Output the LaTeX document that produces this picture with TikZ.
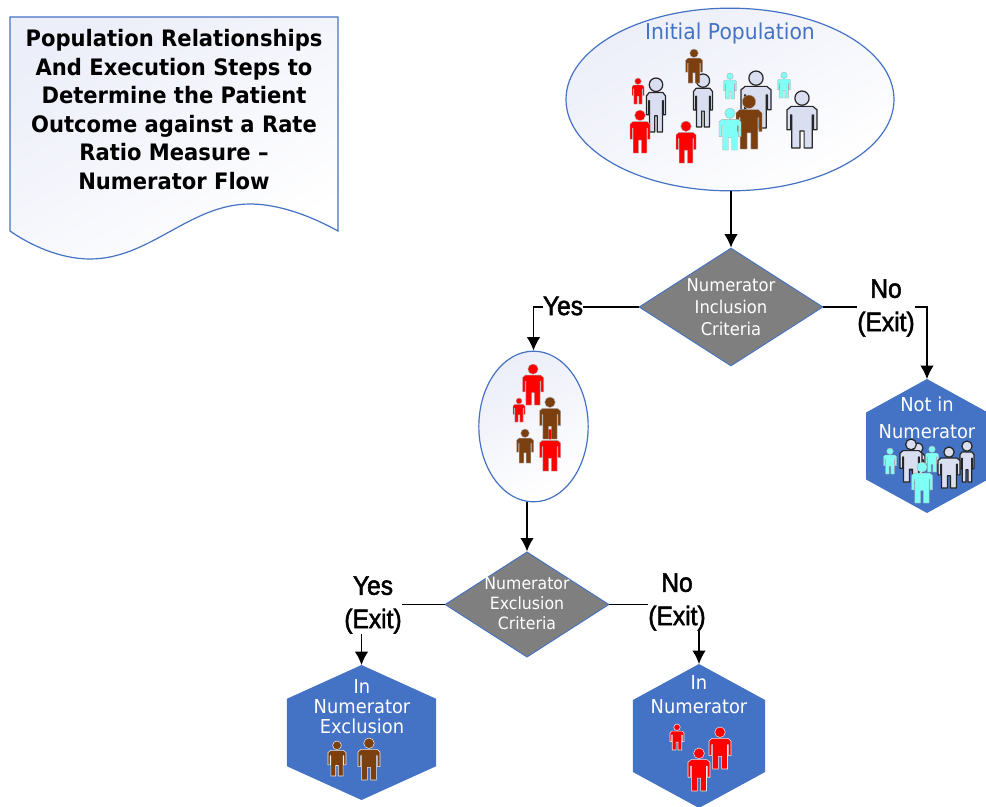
\documentclass[tikz,border=0pt]{standalone}
\usepackage{fontspec}
\setmainfont[FakeStretch=0.93]{DejaVu Sans}
\newfontfamily\exitfont[FakeStretch=0.92,FakeBold=2]{Liberation Sans}
\usetikzlibrary{arrows.meta, shapes.geometric}
\definecolor{myblue}{RGB}{68, 114, 196}
\definecolor{mygray}{RGB}{127, 127, 127}
\definecolor{mypale}{RGB}{236, 238, 249}
\definecolor{mybrown}{RGB}{123, 63, 16}
\definecolor{mycyan}{RGB}{127, 255, 245}
\definecolor{myslate}{RGB}{217, 222, 240}
\tikzset{>={Latex[length=10pt, width=10pt]}}
\tikzset{
  flowline/.style = {draw = black, line width = 0.9pt},
  popbubble/.style = {ellipse, draw = myblue, line width = 0.9pt, shade, top color = mypale, bottom color = white, shading angle = 30, inner sep = 0pt},
  critbox/.style = {diamond, draw = myblue, fill = mygray, line width = 0.7pt, inner sep = 0pt},
  outbox/.style = {regular polygon, regular polygon sides = 6, shape border rotate = 30, fill = myblue, inner sep = 0pt, outer sep = 0pt, transform shape},
  exitlabel/.style = {fill = white, align = center, inner sep = 0pt, font = \exitfont\fontsize{20}{25}\selectfont},
  whitetext/.style = {align = center, text = white, inner sep = 0pt},
  manred/.style = {fill = red, draw = gray!60, line width = 0.3pt},
  manbrown/.style = {fill = mybrown, draw = gray!60, line width = 0.3pt},
  mancyan/.style = {fill = mycyan, draw = gray!60, line width = 0.3pt},
  manslate/.style = {fill = myslate, draw = black!85, line width = 0.9pt},
  manredw/.style = {fill = red, draw = white!85!gray, line width = 0.4pt},
  manbrownw/.style = {fill = mybrown, draw = white!85!gray, line width = 0.4pt},
}
% centre x, top y, height, width, style
\newcommand{\patient}[5]{
\begin{scope}[shift = {(#1, #2)}, xscale = #4, yscale = #3]
\pgfmathsetmacro{\headr}{0.125*#3/#4}
\path[#5] (0, 0.125) circle [x radius = \headr, y radius = 0.125];
\path[#5, line join = round] (-0.36, 0.27) -- (0.36, 0.27) -- (0.5, 0.33) -- (0.5, 0.68) -- (0.38, 0.68) -- (0.38, 0.42) -- (0.34, 0.42) -- (0.34, 1) -- (0.07, 1) -- (0.07, 0.7) -- (-0.07, 0.7) -- (-0.07, 1) -- (-0.34, 1) -- (-0.34, 0.42) -- (-0.38, 0.42) -- (-0.38, 0.68) -- (-0.5, 0.68) -- (-0.5, 0.33) -- cycle;
\end{scope}
}

\begin{document}
\begin{tikzpicture}[x = 0.75pt, y = -0.75pt]

\useasboundingbox (0, 0) rectangle (986, 807);

% title sheet
\draw[draw = myblue, line width = 0.9pt, shade, top color = mypale, bottom color = white, shading angle = 30] 
(10, 17) -- (338, 17) -- (338, 231) .. controls (300, 210) and (270, 204) .. (250, 204) .. controls (190, 204) and (150, 259) .. (90, 259) .. controls (60, 259) and (30, 245) .. (10, 231) -- cycle;
\node[align = center, inner sep = 0pt, font = \bfseries\fontsize{17}{21.4}\selectfont] (title) at (174, 109.5) {Population Relationships\\And Execution Steps to\\Determine the Patient\\Outcome against a Rate\\Ratio Measure --\\Numerator Flow};

% bubbles and criteria
\node[popbubble, minimum width = 246pt, minimum height = 137pt] (initial) at (730, 99.5) {};
\node[popbubble, minimum width = 82pt, minimum height = 113pt] (included) at (533.5, 426.5) {};
\node[critbox, minimum width = 138pt, minimum height = 88.5pt] (inclusion) at (731, 307) {};
\node[critbox, minimum width = 123pt, minimum height = 79pt] (exclusion) at (527, 604.5) {};

% outcomes
\node[outbox, minimum size = 100.5pt, xscale = 1.05] (notin) at (927, 446) {};
\node[outbox, minimum size = 101.25pt, xscale = 1.275] (inexcl) at (361.5, 732.5) {};
\node[outbox, minimum size = 108pt, xscale = 1.06] (innum) at (699, 736) {};

% connectors
\draw[flowline, ->] (inclusion.north |- initial.south) -- (inclusion.north);
\draw[flowline, ->] (inclusion.west) -| (included.north);
\draw[flowline, ->] (inclusion.east) -| (notin.corner 1);
\draw[flowline, ->] (exclusion.north |- included.south) -- (exclusion.north);
\draw[flowline, ->] (exclusion.west) -| (inexcl.corner 1);
\draw[flowline, ->] (exclusion.east) -| (innum.corner 1);

% labels
\node[exitlabel] (yesone) at (563, 306) {Yes};
\node[exitlabel] (noone) at (886, 308) {No\\(Exit)};
\node[exitlabel] (yestwo) at (373, 605) {Yes\\(Exit)};
\node[exitlabel] (notwo) at (677, 602) {No\\(Exit)};

\node[text = myblue, inner sep = 0pt, font = \fontsize{16.4}{18}\selectfont] (initialtext) at (730, 33) {Initial Population};
\node[whitetext, font = \fontsize{13.2}{16.5}\selectfont] (inclusiontext) at (731, 307) {Numerator\\Inclusion\\Criteria};
\node[whitetext, font = \fontsize{12.7}{15}\selectfont] (exclusiontext) at (527, 603) {Numerator\\Exclusion\\Criteria};
\node[whitetext, font = \fontsize{14.4}{20.5}\selectfont] (notintext) at (927, 418) {Not in\\Numerator};
\node[whitetext, font = \fontsize{14.4}{15}\selectfont] (inexcltext) at (362, 707) {In\\Numerator\\Exclusion};
\node[whitetext, font = \fontsize{14.4}{18}\selectfont] (innumtext) at (699, 695) {In\\Numerator};

% initial population
\patient{656}{78}{54}{19}{manslate}
\patient{638}{78}{26}{12}{manred}
\patient{640}{110}{43}{20}{manred}
\patient{703}{74}{53}{19}{manslate}
\patient{694}{49}{34}{17}{manbrown}
\patient{686}{121}{42}{20}{manred}
\patient{730}{73}{26}{13}{mancyan}
\patient{784}{72}{26}{13}{mancyan}
\patient{756}{71}{57}{30}{manslate}
\patient{749}{95}{54}{26}{manbrown}
\patient{730}{108}{42}{22}{mancyan}
\patient{802}{91}{57}{30}{manslate}

% included group
\patient{533}{364}{41}{21}{manred}
\patient{519}{398}{24}{12}{manred}
\patient{550}{429}{42}{21}{manred}
\patient{550}{397}{42}{21}{manbrown}
\patient{525}{429}{34}{17}{manbrown}

% not in numerator group
\patient{890}{448}{26}{13}{mancyan}
\patient{967}{441}{41}{14}{manslate}
\patient{918}{443}{40}{14}{manslate}
\patient{911}{439}{43}{22}{manslate}
\patient{932}{446}{26}{13}{mancyan}
\patient{949}{447}{41}{22}{manslate}
\patient{922}{462}{41}{21}{mancyan}

% exclusion group
\patient{337}{741}{35}{18}{manbrownw}
\patient{369}{738}{42}{22}{manbrownw}

% numerator group
\patient{677}{724}{26}{14}{manredw}
\patient{720}{727}{42}{22}{manredw}
\patient{699}{748}{43}{22}{manredw}

\end{tikzpicture}
\end{document}
